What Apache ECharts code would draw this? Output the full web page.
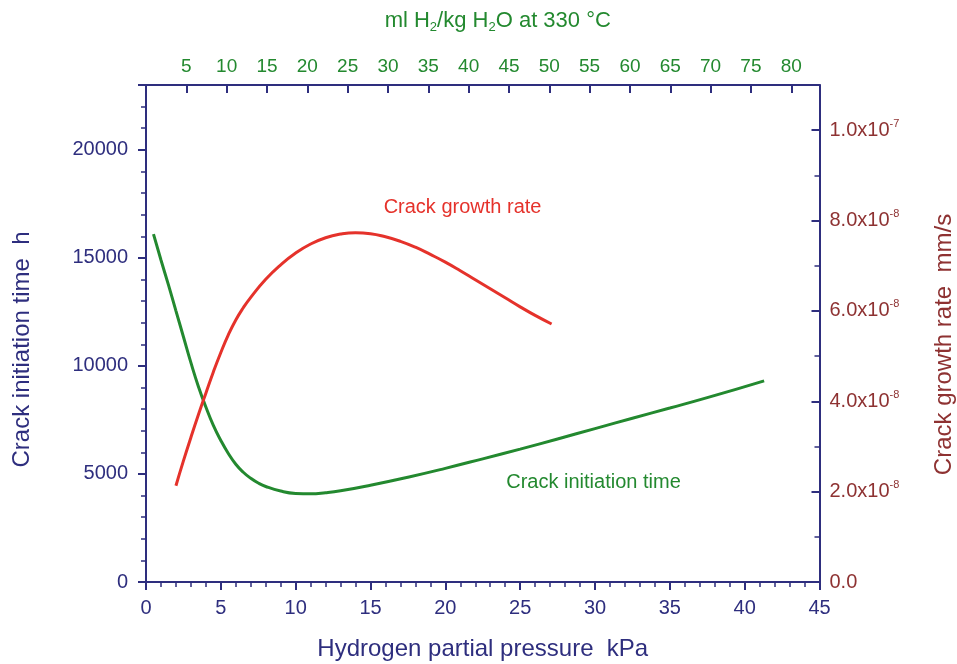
<!DOCTYPE html>
<html>
<head>
<meta charset="utf-8">
<script src="https://cdn.jsdelivr.net/npm/echarts@6/dist/echarts.min.js"></script>
<style>
html, body { margin: 0; padding: 0; background: #ffffff; }
#box { width: 957px; height: 664px; }
</style>
</head>
<body>
<div id="box"></div>
<script>
// hydrogen partial pressure (kPa) / crack initiation time (h)
const initPressure = [0.5, 1.0, 1.5, 2.0, 2.5, 3.0, 3.5, 4.0, 4.5, 5.0, 5.5, 6.0, 6.5, 7.0, 7.5, 8.0, 9.0, 10.0, 11.0, 12.0, 13.0, 15.0, 17.5, 20.0, 22.5, 25.0, 27.5, 30.0, 32.5, 35.0, 37.5, 41.3]
const initTime = [16100, 14900, 13750, 12550, 11350, 10150, 9050, 8100, 7250, 6550, 5950, 5450, 5080, 4800, 4580, 4420, 4210, 4100, 4080, 4130, 4220, 4480, 4850, 5260, 5700, 6150, 6620, 7100, 7580, 8050, 8530, 9310]
// hydrogen partial pressure (kPa) / crack growth rate (mm/s)
const growthPressure = [2.0, 2.5, 3.0, 3.5, 4.0, 4.5, 5.0, 5.5, 6.0, 6.5, 7.0, 8.0, 9.0, 10.0, 11.0, 12.0, 13.0, 14.0, 15.0, 16.0, 17.0, 18.0, 19.0, 20.0, 21.0, 22.0, 23.0, 24.0, 25.0, 26.0, 27.1]
const growthRate = [2.13e-8, 2.68e-8, 3.2e-8, 3.7e-8, 4.18e-8, 4.65e-8, 5.08e-8, 5.47e-8, 5.8e-8, 6.07e-8, 6.3e-8, 6.7e-8, 7.02e-8, 7.28e-8, 7.48e-8, 7.62e-8, 7.7e-8, 7.73e-8, 7.71e-8, 7.64e-8, 7.54e-8, 7.41e-8, 7.25e-8, 7.08e-8, 6.89e-8, 6.69e-8, 6.49e-8, 6.29e-8, 6.09e-8, 5.9e-8, 5.71e-8]

const navy = "#2e2e7e"
const green = "#23892f"
const red = "#e5322b"
const darkRed = "#8e3232"
const font = "Liberation Sans"

function sciLabel(v) {
	if (v === 0) return "{m|0.0}"
	let e = Math.floor(Math.log10(v) + 1e-9)
	let m = v / Math.pow(10, e)
	return "{m|" + m.toFixed(1) + "x10}{e|" + e + "}"
}

let myCharts = echarts.init(document.getElementById("box"))
let option = {
	animation: false,
	backgroundColor: "#ffffff",
	textStyle: { fontFamily: font },
	grid: { left: 146, right: 137.5, top: 85, bottom: 82, containLabel: false, outerBoundsMode: "none" },
	xAxis: [
		{
			type: "value",
			position: "bottom",
			min: 0,
			max: 45,
			interval: 5,
			name: "Hydrogen partial pressure  kPa",
			nameLocation: "middle",
			nameGap: 55,
			nameTextStyle: { color: navy, fontSize: 24, fontFamily: font },
			axisLine: { onZero: false, lineStyle: { color: navy, width: 2 } },
			axisTick: { inside: false, length: 8, lineStyle: { color: navy, width: 2 } },
			minorTick: { show: true, splitNumber: 5, length: 5, lineStyle: { color: navy, width: 1.5 } },
			axisLabel: { color: navy, fontSize: 20, margin: 16, fontFamily: font },
			splitLine: { show: false },
		},
		{
			type: "value",
			position: "top",
			min: 0,
			max: 83.5,
			interval: 5,
			name: "{t|ml H}{s|2}{t|/kg H}{s|2}{t|O at 330 °C}",
			nameLocation: "middle",
			nameGap: 51,
			nameTextStyle: {
				padding: [0, 0, 0, 30],
				rich: {
					t: { color: green, fontSize: 22, fontFamily: font },
					s: { color: green, fontSize: 13, fontFamily: font, padding: [14, 0, 0, 0] },
				},
			},
			axisLine: { onZero: false, lineStyle: { color: navy, width: 2 } },
			axisTick: { inside: true, length: 8, lineStyle: { color: navy, width: 2 } },
			axisLabel: {
				color: green,
				fontSize: 19,
				margin: 9,
				fontFamily: font,
				showMaxLabel: false,
				formatter: (v) => (v === 0 ? "" : String(v)),
			},
			splitLine: { show: false },
		},
	],
	yAxis: [
		{
			type: "value",
			position: "left",
			min: 0,
			max: 23000,
			interval: 5000,
			name: "Crack initiation time  h",
			nameLocation: "middle",
			nameRotate: 90,
			nameGap: 112,
			nameTextStyle: { color: navy, fontSize: 24, fontFamily: font, padding: [0, 32, 0, 0] },
			axisLine: { show: true, onZero: false, lineStyle: { color: navy, width: 2 } },
			axisTick: { inside: false, length: 8, lineStyle: { color: navy, width: 2 } },
			minorTick: { show: true, splitNumber: 5, length: 5, lineStyle: { color: navy, width: 1.5 } },
			axisLabel: { color: navy, fontSize: 20, margin: 18, fontFamily: font, showMaxLabel: false, formatter: (v) => String(v) },
			splitLine: { show: false },
		},
		{
			type: "value",
			position: "right",
			min: 0,
			max: 1.1e-7,
			interval: 2e-8,
			name: "Crack growth rate  mm/s",
			nameLocation: "middle",
			nameRotate: 90,
			nameGap: 113,
			nameTextStyle: { color: darkRed, fontSize: 24, fontFamily: font, padding: [0, 22, 0, 0] },
			axisLine: { show: true, onZero: false, lineStyle: { color: navy, width: 2 } },
			axisTick: { inside: true, length: 8, lineStyle: { color: navy, width: 2 } },
			minorTick: { show: true, splitNumber: 2, length: 5, lineStyle: { color: navy, width: 1.5 } },
			axisLabel: {
				margin: 10,
				showMaxLabel: false,
				formatter: sciLabel,
				rich: {
					m: { color: darkRed, fontSize: 20, fontFamily: font },
					e: { color: darkRed, fontSize: 11, fontFamily: font, padding: [0, 0, 13, 0] },
				},
			},
			splitLine: { show: false },
		},
	],
	series: [
		{
			name: "Crack initiation time",
			type: "line",
			xAxisIndex: 0,
			yAxisIndex: 0,
			smooth: 0.5,
			showSymbol: false,
			data: initPressure.map((p, i) => [p, initTime[i]]),
			lineStyle: { color: green, width: 3 },
			markPoint: {
				symbolSize: 0,
				label: { show: true, position: "inside", color: green, fontSize: 20, fontFamily: font, formatter: "Crack initiation time" },
				data: [{ coord: [29.9, 4600] }],
			},
		},
		{
			name: "Crack growth rate",
			type: "line",
			xAxisIndex: 0,
			yAxisIndex: 1,
			smooth: 0.5,
			showSymbol: false,
			data: growthPressure.map((p, i) => [p, growthRate[i]]),
			lineStyle: { color: red, width: 3 },
			markPoint: {
				symbolSize: 0,
				label: { show: true, position: "inside", color: red, fontSize: 20, fontFamily: font, formatter: "Crack growth rate" },
				data: [{ coord: [21.15, 8.3e-8] }],
			},
		},
	],
}
myCharts.setOption(option)
</script>
</body>
</html>
